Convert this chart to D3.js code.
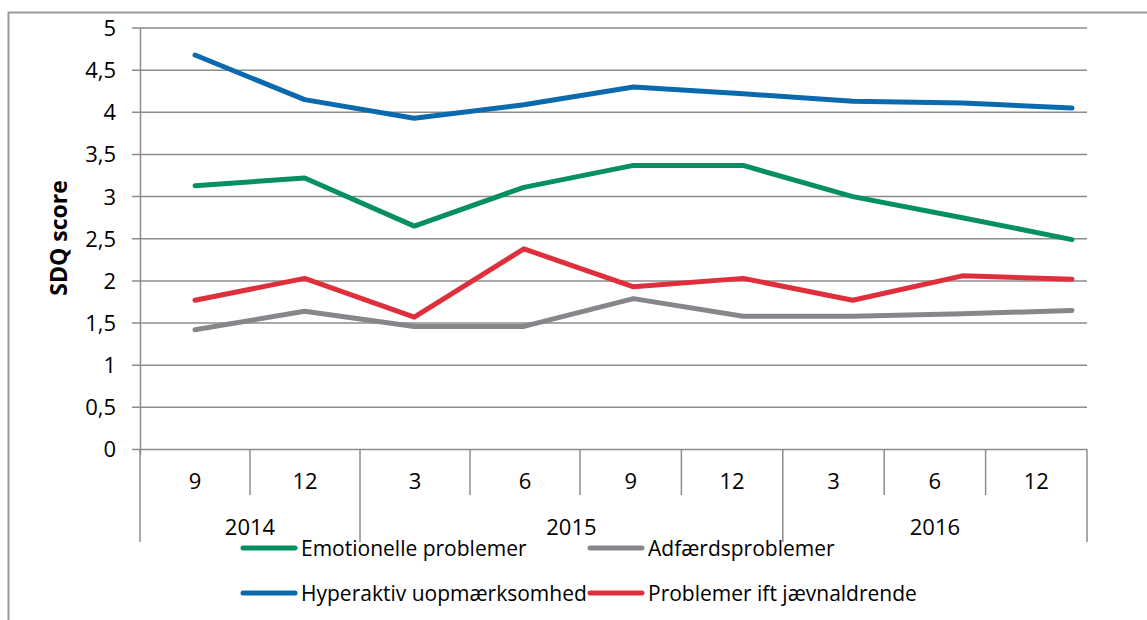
<!DOCTYPE html>
<html>
<head>
<meta charset="utf-8">
<script src="https://cdn.jsdelivr.net/npm/d3@7"></script>
<style>
  body { margin: 0; background: #fff; }
  svg { display: block; font-family: "Open Sans", Lato, sans-serif; }
</style>
</head>
<body>
<script>
'use strict';

// categories (month of year) and the year groups
const months = ['9', '12', '3', '6', '9', '12', '3', '6', '12'];
const years = ['2014', '2015', '2016'];
const yearSpans = [[0, 2], [2, 6], [6, 9]];   // category index ranges
const yTicks = [0, 0.5, 1, 1.5, 2, 2.5, 3, 3.5, 4, 4.5, 5];

const seriesNames = ['Emotionelle problemer', 'Adfærdsproblemer',
                     'Hyperaktiv uopmærksomhed', 'Problemer ift jævnaldrende'];
const emotionelle = [3.13, 3.22, 2.65, 3.11, 3.37, 3.37, 3.00, 2.75, 2.49];
const adfaerd     = [1.42, 1.64, 1.46, 1.46, 1.79, 1.58, 1.58, 1.61, 1.65];
const hyperaktiv  = [4.68, 4.15, 3.93, 4.09, 4.30, 4.22, 4.13, 4.11, 4.05];
const jaevnald    = [1.77, 2.03, 1.57, 2.38, 1.93, 2.03, 1.77, 2.06, 2.02];
const colors = ['#05915f', '#85878a', '#0a6aad', '#e02f3c'];

const width = 1147;
const height = 620;

let svg = d3.select('body').append('svg')
    .attr('width', width)
    .attr('height', height);

// outer frame (only top and left edges show)
svg.append('path')
    .attr('d', 'M8.5,620 V12.5 H1147')
    .attr('fill', 'none')
    .attr('stroke', '#9a9a9a')
    .attr('stroke-width', 2);

let y = d3.scaleLinear().domain([0, 5]).range([449.5, 28]);

// category cell boundaries, slightly uneven as in the original
let xCell = d3.scaleLinear().domain([0, 4, 9]).range([140, 580, 1087]);
// data points
let x = d3.scalePoint().domain(d3.range(months.length)).range([195, 1072]);

// gridlines + y ticks
svg.append('g')
  .selectAll('line')
  .data(yTicks).enter()
  .append('line')
    .attr('x1', 132).attr('x2', 1087)
    .attr('y1', d => y(d)).attr('y2', d => y(d))
    .attr('stroke', '#8c8c8c')
    .attr('stroke-width', 1.5);

svg.append('g')
  .selectAll('text')
  .data(yTicks).enter()
  .append('text')
    .attr('x', 116)
    .attr('y', d => y(d))
    .attr('dy', '0.36em')
    .attr('text-anchor', 'end')
    .attr('font-size', 22)
    .attr('fill', '#000')
    .text(d => String(d).replace('.', ','));

// y axis line
svg.append('line')
    .attr('x1', 140.5).attr('x2', 140.5)
    .attr('y1', y(5)).attr('y2', y(0) + 5)
    .attr('stroke', '#8c8c8c')
    .attr('stroke-width', 1.5);

svg.append('text')
    .attr('transform', 'translate(67,238) rotate(-90)')
    .attr('text-anchor', 'middle')
    .attr('font-size', 23)
    .attr('font-weight', 'bold')
    .text('SDQ score');

// x axis: month cells
let ax = svg.append('g');
let bounds = d3.range(months.length + 1);
let yearBounds = [0, 2, 6, 9];
ax.selectAll('line.tick')
  .data(bounds).enter()
  .append('line')
    .attr('class', 'tick')
    .attr('x1', d => xCell(d)).attr('x2', d => xCell(d))
    .attr('y1', y(0))
    .attr('y2', d => yearBounds.includes(d) ? 542 : 495)
    .attr('stroke', '#8c8c8c')
    .attr('stroke-width', 1.5);

ax.selectAll('text.month')
  .data(months).enter()
  .append('text')
    .attr('class', 'month')
    .attr('x', (d, i) => (xCell(i) + xCell(i + 1)) / 2)
    .attr('y', 481)
    .attr('dy', '0.36em')
    .attr('text-anchor', 'middle')
    .attr('font-size', 22)
    .text(d => d);

ax.selectAll('text.year')
  .data(years).enter()
  .append('text')
    .attr('class', 'year')
    .attr('x', (d, i) => (xCell(yearSpans[i][0]) + xCell(yearSpans[i][1])) / 2)
    .attr('y', 527)
    .attr('dy', '0.36em')
    .attr('text-anchor', 'middle')
    .attr('font-size', 22)
    .text(d => d);

// series lines
let series = [emotionelle, adfaerd, hyperaktiv, jaevnald];
let line = d3.line()
    .x((d, i) => x(i))
    .y(d => y(d));

svg.append('g')
  .selectAll('path')
  .data(series).enter()
  .append('path')
    .attr('d', line)
    .attr('fill', 'none')
    .attr('stroke', (d, i) => colors[i])
    .attr('stroke-width', 5)
    .attr('stroke-linejoin', 'round')
    .attr('stroke-linecap', 'round');

// legend: 2 x 2
let legendX = [243, 590];
let legendY = [548, 593];
let lg = svg.append('g')
  .selectAll('g')
  .data(seriesNames).enter()
  .append('g')
    .attr('transform', (d, i) => `translate(${legendX[i % 2]},${legendY[Math.floor(i / 2)]})`);

lg.append('line')
    .attr('x1', 0).attr('x2', 52)
    .attr('stroke', (d, i) => colors[i])
    .attr('stroke-width', 5)
    .attr('stroke-linecap', 'round');

lg.append('text')
    .attr('x', 58)
    .attr('dy', '0.36em')
    .attr('font-size', 21)
    .text(d => d);
</script>
</body>
</html>
